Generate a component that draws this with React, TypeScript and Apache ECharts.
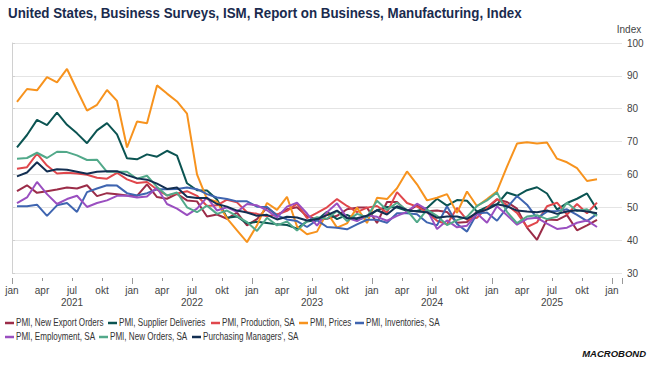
import React, { useEffect, useRef } from "react";
import * as echarts from "echarts";

const FONT = "'Liberation Sans', Arial, sans-serif";

const seriesNames = [
  "PMI, New Export Orders",
  "PMI, Supplier Deliveries",
  "PMI, Production, SA",
  "PMI, Prices",
  "PMI, Inventories, SA",
  "PMI, Employment, SA",
  "PMI, New Orders, SA",
  "Purchasing Managers', SA",
];

const seriesColors = [
  "#9b2c48",
  "#0b5452",
  "#e0474c",
  "#f7931e",
  "#3f65b0",
  "#9a4fc0",
  "#52a98a",
  "#132f52",
];

// Monthly values, Jan 2021 .. Nov 2025
const newExportOrders = [
  54.9, 56.7, 54.4, 54.9, 55.4, 56.0, 55.7, 56.7, 53.4, 54.3, 54.0, 53.6,
  53.5, 57.0, 53.1, 52.6, 54.1, 52.1, 51.8, 47.2, 47.8, 46.5, 48.4, 44.5,
  46.4, 49.9, 47.6, 49.4, 50.0, 47.3, 46.3, 46.5, 47.4, 49.4, 49.9, 49.9,
  45.2, 51.6, 51.6, 48.7, 50.6, 48.8, 49.0, 48.6, 45.3, 45.5, 48.7, 49.6,
  52.4, 51.6, 49.6, 43.8, 40.1, 46.3, 46.1, 47.6, 43.0, 44.5, 46.2,
];
const supplierDeliveries = [
  68.2, 72.0, 76.6, 75.0, 78.8, 75.1, 72.5, 69.5, 73.4, 75.6, 72.2, 64.9,
  64.6, 66.1, 65.4, 67.2, 65.7, 57.3, 55.2, 55.1, 52.4, 46.8, 47.2, 45.1,
  45.6, 45.2, 44.8, 44.6, 43.5, 45.7, 46.1, 48.6, 46.4, 47.7, 46.2, 47.0,
  49.1, 50.1, 49.9, 48.9, 48.9, 49.8, 52.6, 50.5, 52.2, 52.0, 48.7, 50.1,
  50.9, 54.5, 53.5, 55.2, 56.1, 54.2, 49.3, 51.3, 52.6, 54.2, 49.3,
];
const production = [
  61.7, 62.2, 66.3, 62.7, 60.3, 60.5, 60.3, 59.9, 59.0, 58.7, 60.5, 58.5,
  57.4, 57.7, 55.4, 53.6, 54.2, 54.9, 53.5, 50.4, 50.6, 52.3, 51.5, 48.5,
  48.0, 47.3, 47.8, 48.9, 51.1, 46.7, 48.3, 50.0, 52.5, 50.4, 48.5, 49.9,
  50.4, 48.4, 54.6, 51.3, 50.2, 48.5, 45.9, 44.8, 49.8, 46.2, 46.8, 49.9,
  52.5, 50.7, 48.3, 44.0, 45.4, 50.3, 51.4, 47.8, 51.0, 48.2, 51.4,
];
const prices = [
  82.1, 86.0, 85.6, 89.6, 88.0, 92.1, 85.7, 79.4, 81.2, 85.7, 82.4, 68.2,
  76.1, 75.6, 87.1, 84.6, 82.2, 78.5, 60.0, 52.5, 51.7, 46.6, 43.0, 39.4,
  44.5, 51.3, 49.2, 53.2, 44.2, 41.8, 42.6, 48.4, 43.8, 45.1, 49.9, 45.2,
  52.9, 52.5, 55.8, 60.9, 57.0, 52.1, 52.9, 54.0, 48.3, 54.8, 50.3, 52.5,
  54.9, 62.4, 69.4, 69.8, 69.4, 69.7, 64.8, 63.7, 61.9, 58.0, 58.5,
];
const inventories = [
  50.3, 50.3, 50.8, 47.4, 50.6, 51.3, 48.6, 54.6, 55.7, 56.7, 56.6, 54.3,
  53.6, 54.3, 55.5, 55.5, 55.6, 56.0, 55.5, 54.0, 53.0, 52.5, 51.8, 51.8,
  50.2, 50.1, 47.5, 46.3, 45.8, 44.0, 46.1, 44.0, 43.8, 43.3, 44.8, 46.2,
  46.2, 45.3, 48.2, 48.2, 47.9, 45.4, 44.5, 50.3, 44.9, 42.6, 48.1, 48.4,
  45.9, 49.9, 53.4, 50.8, 46.7, 48.7, 48.9, 49.4, 47.7, 45.8, 48.0,
];
const employment = [
  51.3, 53.0, 57.7, 54.0, 51.0, 52.5, 53.5, 50.1, 51.3, 52.1, 53.5, 53.5,
  53.0, 53.3, 56.0, 51.0, 49.6, 47.6, 49.6, 53.0, 49.0, 50.0, 48.6, 51.0,
  50.6, 49.1, 46.9, 50.2, 51.4, 48.1, 44.4, 48.5, 51.2, 46.8, 45.8, 47.5,
  47.1, 45.9, 47.4, 48.6, 51.1, 49.3, 43.4, 46.0, 43.9, 44.4, 48.1, 45.3,
  50.3, 47.6, 44.7, 46.5, 46.8, 45.0, 43.4, 43.8, 45.3, 46.0, 44.0,
];
const newOrders = [
  64.8, 65.0, 66.6, 65.0, 66.9, 66.8, 65.8, 64.4, 64.5, 60.8, 60.8, 60.8,
  58.7, 59.6, 56.2, 53.6, 54.5, 50.0, 48.5, 50.5, 48.0, 49.0, 47.3, 45.5,
  42.8, 46.8, 44.5, 45.7, 42.9, 45.8, 47.0, 46.5, 48.9, 45.8, 48.0, 47.0,
  52.0, 49.2, 51.4, 49.1, 45.4, 49.3, 47.4, 44.6, 46.1, 47.1, 50.4, 52.1,
  54.5, 48.6, 45.2, 47.2, 47.6, 46.4, 47.1, 51.4, 48.9, 49.4, 47.4,
];
const pmi = [
  59.4, 60.6, 63.7, 60.9, 61.6, 61.4, 60.8, 60.2, 60.8, 61.0, 61.0, 59.8,
  58.8, 58.4, 57.2, 55.6, 56.0, 53.2, 52.8, 52.8, 51.0, 50.2, 49.0, 48.4,
  47.4, 47.7, 46.3, 47.1, 46.9, 46.0, 46.4, 47.6, 49.0, 46.7, 46.7, 47.4,
  49.1, 47.8, 50.3, 49.2, 48.7, 48.5, 46.8, 47.2, 47.2, 46.5, 48.4, 49.3,
  50.9, 50.3, 49.0, 48.7, 48.5, 49.0, 48.0, 48.7, 49.1, 48.7, 48.2,
];

const allSeries = [
  newExportOrders,
  supplierDeliveries,
  production,
  prices,
  inventories,
  employment,
  newOrders,
  pmi,
];

const monthLabels: Record<number, string> = { 0: "jan", 3: "apr", 6: "jul", 9: "okt" };
const firstYear = 2021;
const yTicks = { min: 30, max: 100, interval: 10 };

// legend layout (positions only)
const legendRows = [
  { y: 323, items: [0, 1, 2, 3, 4], xs: [5, 108, 211, 299, 355] },
  { y: 337, items: [5, 6, 7], xs: [5, 99, 192] },
];

export default function App() {
  const ref = useRef<HTMLDivElement>(null);
  useEffect(() => {
    if (!ref.current) return;
    const chart = echarts.init(ref.current, undefined, { renderer: "svg" });
    const xMin = 0;
    const xMax = 61;

    const legendGraphics: any[] = [];
    legendRows.forEach((row) => {
      row.items.forEach((k, j) => {
        const x = row.xs[j];
        legendGraphics.push({
          type: "rect",
          shape: { x, y: row.y - 1.25, width: 9, height: 2.5 },
          style: { fill: seriesColors[k] },
        });
        legendGraphics.push({
          type: "text",
          x: x + 11,
          y: row.y,
          scaleX: 0.81,
          style: {
            text: seriesNames[k],
            fontFamily: FONT,
            fontSize: 10,
            fill: "#333",
            verticalAlign: "middle",
            align: "left",
          },
        });
      });
    });

    const option: any = {
      animation: false,
      backgroundColor: "#ffffff",
      grid: { left: 12, right: 30, top: 43, bottom: 94, containLabel: false },
      xAxis: [
        {
          type: "value",
          min: xMin,
          max: xMax,
          interval: 3,
          offset: 5,
          axisLine: { show: false },
          axisTick: { show: true, length: 3, lineStyle: { color: "#999" } },
          splitLine: { show: false },
          axisLabel: {
            fontFamily: FONT,
            fontSize: 10,
            color: "#444",
            margin: 6,
            lineHeight: 12,
            showMaxLabel: true,
            formatter: (v: number) => {
              if (v > 60) return "";
              const m = v % 12;
              const name = monthLabels[m] ?? "";
              if (m === 6) return name + "\n" + (firstYear + Math.floor(v / 12));
              return name;
            },
          },
        },
        {
          type: "value",
          min: xMin,
          max: xMax,
          interval: 12,
          offset: 5,
          position: "bottom",
          axisLine: { show: false },
          axisTick: { show: true, length: 6, lineStyle: { color: "#999" } },
          splitLine: { show: false },
          axisLabel: { show: false },
        },
      ],
      yAxis: {
        type: "value",
        position: "right",
        min: yTicks.min,
        max: yTicks.max,
        interval: yTicks.interval,
        axisLine: { show: true, lineStyle: { color: "#d0d0d0" } },
        axisTick: { show: true, length: 3, lineStyle: { color: "#d0d0d0" } },
        axisLabel: { fontFamily: FONT, fontSize: 10, color: "#444", margin: 5 },
        splitLine: { show: true, lineStyle: { color: "#e4e4e4", width: 1 } },
      },
      series: seriesNames.map((name, k) => ({
        name,
        type: "line",
        xAxisIndex: 0,
        showSymbol: false,
        symbol: "none",
        color: seriesColors[k],
        lineStyle: { width: 2, color: seriesColors[k] },
        data: allSeries[k].map((v, i) => [i + 0.5, v]),
      })),
      graphic: [
        {
          type: "text",
          x: 8,
          y: 13,
          scaleX: 0.89,
          style: {
            text: "United States, Business Surveys, ISM, Report on Business, Manufacturing, Index",
            fontFamily: FONT,
            fontSize: 15,
            fontWeight: "bold",
            fill: "#1a2b4e",
            verticalAlign: "middle",
            align: "left",
          },
        },
        {
          type: "text",
          x: 629,
          y: 29,
          style: {
            text: "Index",
            fontFamily: FONT,
            fontSize: 10,
            fill: "#444",
            align: "center",
            verticalAlign: "middle",
          },
        },
        ...legendGraphics,
        {
          type: "text",
          x: 646,
          y: 353,
          style: {
            text: "MACROBOND",
            fontFamily: FONT,
            fontSize: 9.5,
            fontWeight: 900,
            fontStyle: "italic",
            fill: "#111",
            align: "right",
            verticalAlign: "middle",
          },
        },
      ],
    };
    chart.setOption(option);
    return () => chart.dispose();
  }, []);
  return <div ref={ref} style={{ width: 652, height: 367, position: "absolute", left: 0, top: 0 }} />;
}
